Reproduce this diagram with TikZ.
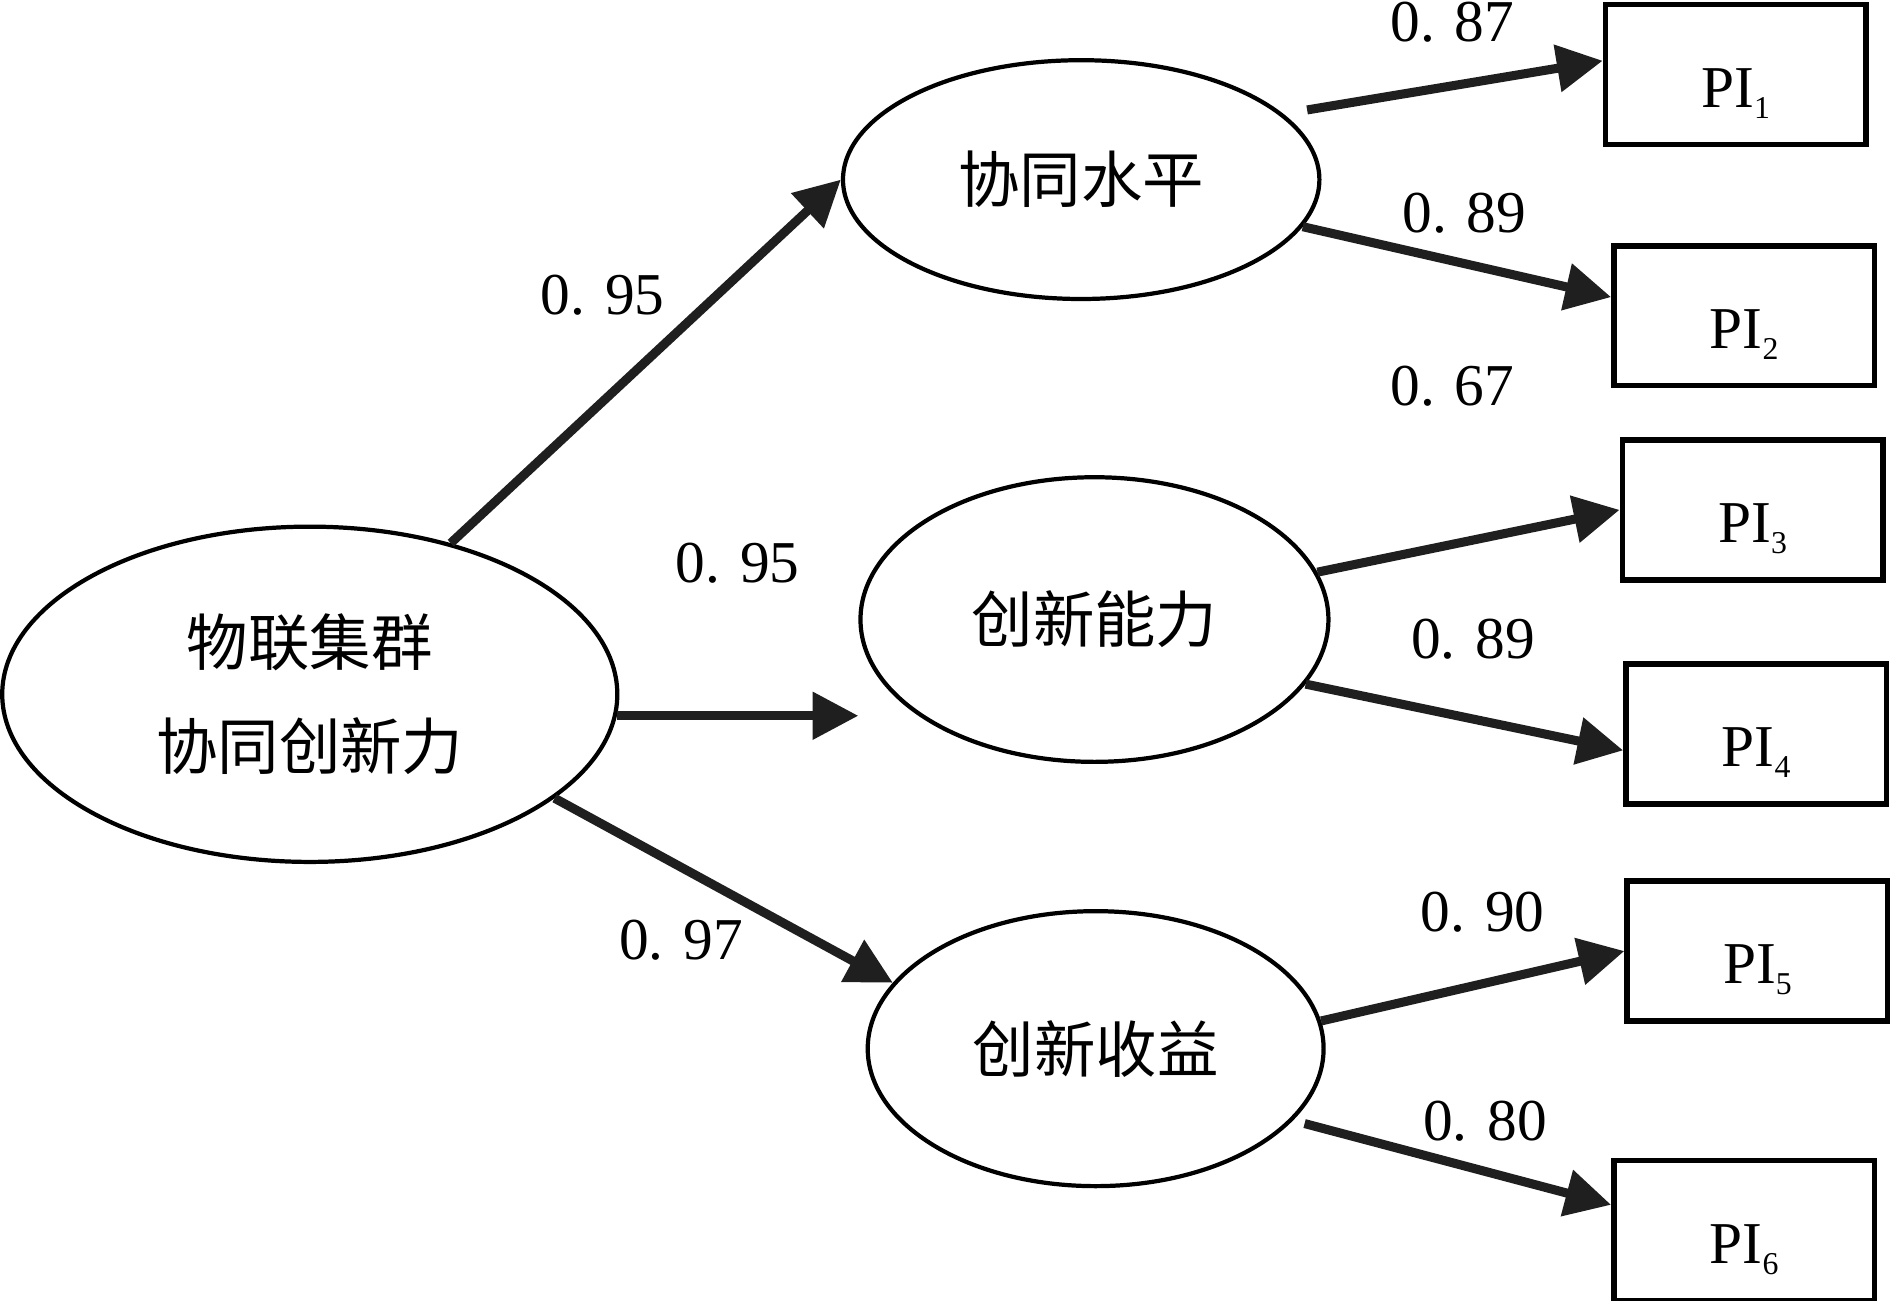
\documentclass[tikz,border=0pt]{standalone}
\usepackage{fontspec}
\setmainfont{Liberation Serif}
\newfontfamily\cjk{Noto Sans CJK SC}
\usetikzlibrary{shapes,arrows.meta,positioning,calc}
\newcommand{\idx}[1]{\raisebox{-0.09cm}{\fontsize{7.5}{8}\selectfont #1}}

\begin{document}
\begin{tikzpicture}[x=0.01cm, y=-0.01cm,
    latent/.style={draw, ellipse, line width=0.035cm, inner sep=0pt, font=\cjk\fontsize{14.5}{24.7}\selectfont, align=center},
    indicator/.style={draw, rectangle, line width=0.045cm, minimum width=2.16cm, minimum height=1.16cm, inner sep=0pt, text height=0.6cm, text depth=0.06cm, font=\fontsize{14}{17}\selectfont},
    loading/.style={-{Triangle[length=0.38cm, width=0.38cm]}, line width=0.075cm, draw=black!88},
    coef/.style={font=\fontsize{14}{17}\selectfont, inner sep=0pt}]
    \useasboundingbox (0,0) rectangle (1568,1079);

    \node (cluster) [latent, minimum width=5.1cm, minimum height=2.78cm] at (257,576) {物联集群\\协同创新力};
    \node (synergy) [latent, minimum width=3.95cm, minimum height=1.98cm] at (897,149) {协同水平};
    \node (ability) [latent, minimum width=3.88cm, minimum height=2.36cm] at (908,514) {创新能力};
    \node (benefit) [latent, minimum width=3.78cm, minimum height=2.28cm] at (909,870) {创新收益};

    \foreach \i/\x/\y in {1/1440/62, 2/1447/262, 3/1454/423, 4/1457/609, 5/1458/789, 6/1447/1021}
        \node (pi\i) [indicator] at (\x,\y) {PI\idx{\i}};

    \draw [loading] (cluster.47) -- (synergy.west);
    \draw [loading] (cluster.-4) -- (cluster.-4 -| ability.west);
    \draw [loading] (cluster.-23) -- (benefit.162);
    \draw [loading, shorten <=0.2cm] (synergy.18) -- (pi1.174);
    \draw [loading] (synergy.-12) -- (pi2.172);
    \draw [loading] (ability.12) -- (pi3.west);
    \draw [loading] (ability.-17) -- (pi4.187);
    \draw [loading] (benefit.7) -- (pi5.west);
    \draw [loading, shorten <=0.1cm] (benefit.-20) -- (pi6.169);

    \node (w1) [coef] at (500,245) {0. 95};
    \node (w2) [coef] at (612,467) {0. 95};
    \node (w3) [coef] at (565,780) {0. 97};
    \node (w4) [coef] at (1205,18) {0. 87};
    \node (w5) [coef] at (1215,177) {0. 89};
    \node (w6) [coef] at (1205,320) {0. 67};
    \node (w7) [coef] at (1222,530) {0. 89};
    \node (w8) [coef] at (1230,757) {0. 90};
    \node (w9) [coef] at (1232,930) {0. 80};
\end{tikzpicture}
\end{document}
